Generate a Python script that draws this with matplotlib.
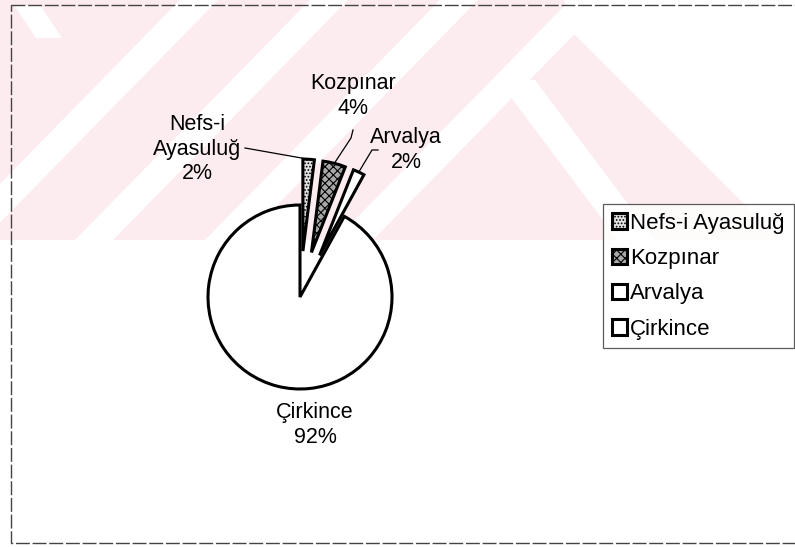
import matplotlib
matplotlib.use("Agg")
import matplotlib.pyplot as plt
import matplotlib.patches as mpatches
import numpy as np

plt.rcParams["font.family"] = ["Liberation Sans", "DejaVu Sans"]
plt.rcParams["hatch.linewidth"] = 0.8

# Data
villages = ["Nefs-i Ayasuluğ", "Kozpınar", "Arvalya", "Çirkince"]
shares = [2, 4, 2, 92]
pct_labels = ["Nefs-i\nAyasuluğ\n2%", "Kozpınar\n4%", "Arvalya\n2%", "Çirkince\n92%"]

W, H = 795, 547
fig = plt.figure(figsize=(W / 100, H / 100), dpi=100)
ax = fig.add_axes([0, 0, 1, 1])


# scan watermark (pale pink band with white diagonal stripes)
def poly(pts, color):
    ax.add_patch(mpatches.Polygon(pts, closed=True, facecolor=color,
                                  edgecolor="none", zorder=0))


pink = "#fdecef"
poly([(0, 0), (W, 0), (W, 240), (0, 240)], pink)
for b in [-55, 75, 205, 335]:
    poly([(b, 240), (b + 38, 240), (b + 273, 0), (b + 235, 0)], "white")
poly([(498, 80), (535, 80), (655, 240), (618, 240)], "white")
poly([(565, 0), (W, 0), (W, 240), (780, 240), (565, 25)], "white")
poly([(14, 5), (40, 5), (62, 38), (36, 38)], "white")

# outer chart frame
ax.add_patch(mpatches.Rectangle((11, 5), 800, 538, fill=False, edgecolor="#444444",
                                linewidth=1.0, linestyle=(0, (10, 2)), zorder=1))

# Pie (y axis is inverted, so counterclock=True draws clockwise on screen)
center = (300, 297)
radius = 92
explode = [46, 46, 46, 0]
wedges, _ = ax.pie(shares, explode=explode, startangle=-90, counterclock=True,
                   radius=radius, center=center, frame=True,
                   wedgeprops=dict(edgecolor="black", linewidth=2.2))

fills = ["#e2e2e2", "#a8a8a8", "white", "white"]
hatches = [".....", "xxxx", None, None]
for w, fc, h in zip(wedges, fills, hatches):
    w.set_facecolor(fc)
    w.set_zorder(3)
    if h:
        w.set_hatch(h)

# Labels
label_pos = [(197, 149), (353, 96), (406, 150), (315, 425)]
for txt, (x, y) in zip(pct_labels, label_pos):
    ax.text(x, y, txt, ha="center", va="center", fontsize=15.5,
            linespacing=1.22, zorder=5)


# leader lines from the labels to the outer edge of each small wedge
def wedge_tip(w):
    mid = np.deg2rad((w.theta1 + w.theta2) / 2)
    cx, cy = w.center
    return cx + w.r * np.cos(mid), cy + w.r * np.sin(mid)


tx, ty = wedge_tip(wedges[0])
ax.plot([245, tx], [148, ty], color="black", lw=0.9, zorder=4)
tx, ty = wedge_tip(wedges[1])
ax.plot([353, 351, tx], [130, 138, ty], color="black", lw=0.9, zorder=4)
tx, ty = wedge_tip(wedges[2])
ax.plot([378, 372, tx], [150, 150, ty], color="black", lw=0.9, zorder=4)

# Legend
leg = ax.legend(wedges, villages, loc="upper left",
                bbox_to_anchor=(603 / W, 1 - 204 / H), borderaxespad=0,
                fontsize=16, frameon=True, fancybox=False,
                handlelength=0.7, handleheight=0.7, handletextpad=0.12,
                labelspacing=0.64, borderpad=0.4)
leg.get_frame().set_edgecolor("#333333")
leg.get_frame().set_linewidth(0.9)
leg.set_zorder(6)

ax.set_xlim(0, W)
ax.set_ylim(H, 0)
ax.set_aspect("equal")
ax.axis("off")

plt.savefig("out.png", dpi=100)
plt.close()
